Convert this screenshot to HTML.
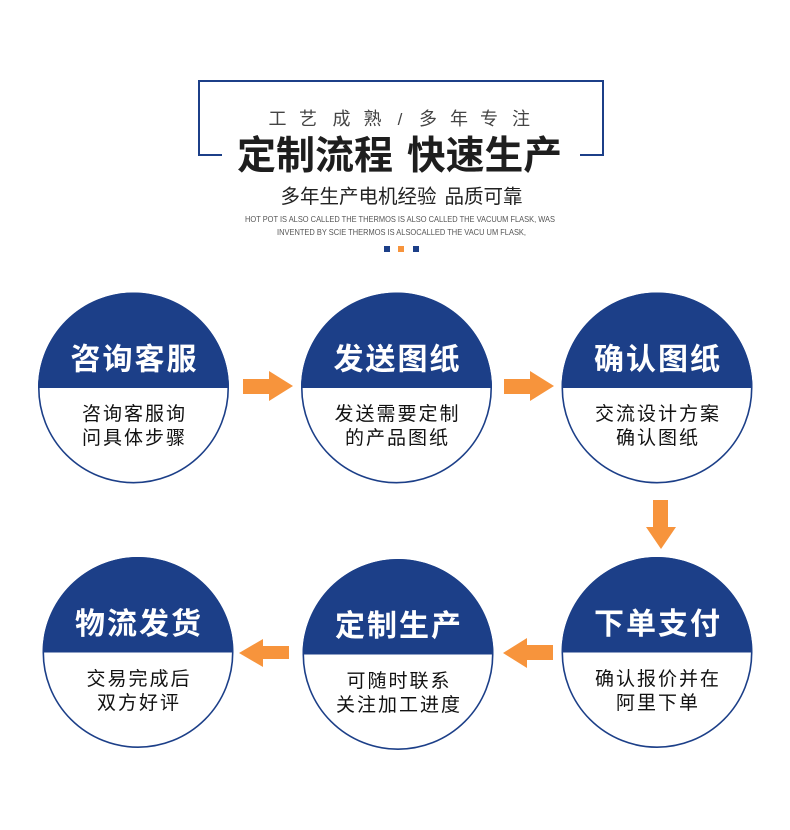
<!DOCTYPE html>
<html><head><meta charset="utf-8"><style>
html,body{margin:0;padding:0;background:#fff;}
svg{display:block;}
text{font-family:"Liberation Sans","Noto Sans CJK SC",sans-serif;}
</style></head><body>
<svg width="790" height="830" viewBox="0 0 790 830" xmlns="http://www.w3.org/2000/svg">
<rect width="790" height="830" fill="#fff"/>
<!-- frame -->
<path d="M222,155 H199 V81 H603 V155 H580" fill="none" stroke="#1c3f88" stroke-width="2"/>
<g font-size="18" fill="#444" text-anchor="middle">
<text x="277.5" y="125">工</text><text x="308" y="125">艺</text><text x="341.5" y="125">成</text><text x="372.5" y="125">熟</text>
<text x="400" y="125" font-size="17">/</text>
<text x="428" y="125">多</text><text x="459" y="125">年</text><text x="489" y="125">专</text><text x="521" y="125">注</text>
</g>
<g font-size="39" font-weight="bold" fill="#1e1e1e" text-anchor="middle">
<text x="315" y="169" textLength="156" lengthAdjust="spacingAndGlyphs">定制流程</text>
<text x="484.5" y="169" textLength="155" lengthAdjust="spacingAndGlyphs">快速生产</text>
</g>
<g font-size="19.5" fill="#222" text-anchor="middle">
<text x="358.5" y="203">多年生产电机经验</text>
<text x="483.5" y="203">品质可靠</text>
</g>
<g font-size="8.5" fill="#555">
<text x="245" y="222" textLength="310" lengthAdjust="spacingAndGlyphs">HOT POT IS ALSO CALLED THE THERMOS IS ALSO CALLED THE VACUUM FLASK, WAS</text>
<text x="277" y="235" textLength="249" lengthAdjust="spacingAndGlyphs">INVENTED BY SCIE THERMOS IS ALSOCALLED THE VACU  UM FLASK,</text>
</g>
<rect x="384" y="246" width="6" height="6" fill="#1c3f88"/>
<rect x="398" y="246" width="6" height="6" fill="#f7943c"/>
<rect x="413" y="246" width="6" height="6" fill="#1c3f88"/>

<!-- circles -->
<defs>
<g id="c">
<circle cx="0" cy="0" r="94.7" fill="#fff" stroke="#1c3f88" stroke-width="1.6"/>
<path d="M-95.5,0 A95.5,95.5 0 0 1 95.5,0 Z" fill="#1c3f88"/>
</g>
</defs>
<use href="#c" x="133.5" y="388"/>
<use href="#c" x="396.5" y="388"/>
<use href="#c" x="657" y="388"/>
<use href="#c" x="138" y="652.5"/>
<use href="#c" x="398" y="654.5"/>
<use href="#c" x="657" y="652.5"/>

<g font-size="30" font-weight="bold" fill="#fff" text-anchor="middle" letter-spacing="2">
<text x="134.5" y="369.5">咨询客服</text>
<text x="397.5" y="369.5">发送图纸</text>
<text x="658" y="369.5">确认图纸</text>
<text x="139" y="634">物流发货</text>
<text x="399" y="636">定制生产</text>
<text x="658" y="634">下单支付</text>
</g>
<g font-size="19" fill="#111" text-anchor="middle" letter-spacing="2">
<text x="134.5" y="420">咨询客服询</text>
<text x="134.5" y="444">问具体步骤</text>
<text x="397.5" y="420">发送需要定制</text>
<text x="397.5" y="444">的产品图纸</text>
<text x="658" y="420">交流设计方案</text>
<text x="658" y="444">确认图纸</text>
<text x="139" y="685">交易完成后</text>
<text x="139" y="709">双方好评</text>
<text x="399" y="687">可随时联系</text>
<text x="399" y="711">关注加工进度</text>
<text x="658" y="685">确认报价并在</text>
<text x="658" y="709">阿里下单</text>
</g>

<!-- arrows -->
<g fill="#f7943c">
<polygon points="243,379 269,379 269,371 293,386 269,401 269,394 243,394"/>
<polygon points="504,379 530,379 530,371 554,386 530,401 530,394 504,394"/>
<polygon points="653,500 668,500 668,527 676,527 661,549 646,527 653,527"/>
<polygon points="553,645 527,645 527,638 503,653 527,668 527,660 553,660"/>
<polygon points="289,646 263,646 263,639 239,653 263,667 263,659 289,659"/>
</g>
</svg>
</body></html>
